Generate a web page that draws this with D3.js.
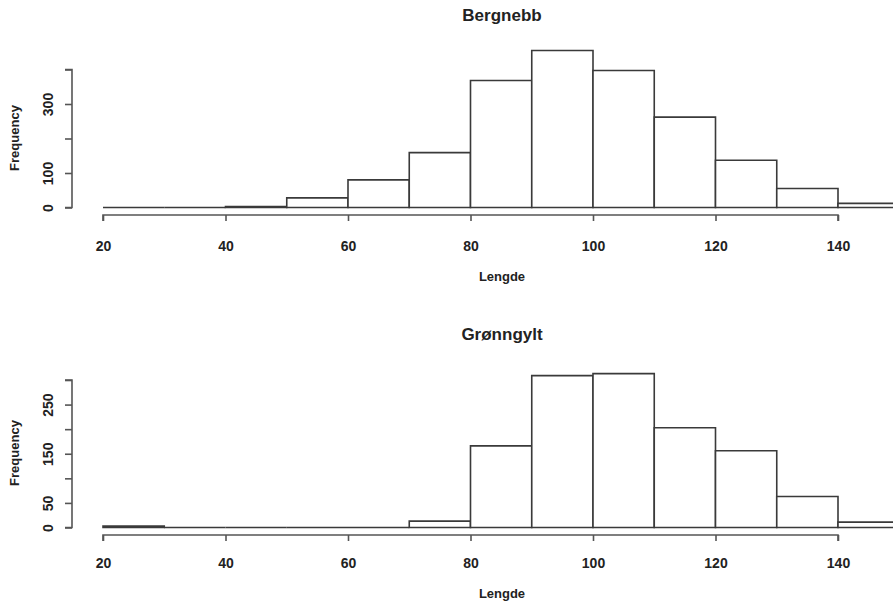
<!DOCTYPE html>
<html>
<head>
<meta charset="utf-8">
<script src="https://cdn.jsdelivr.net/npm/d3@7/dist/d3.min.js"></script>
<style>
  html, body { margin: 0; padding: 0; background: #fff; }
  text { font-family: "Liberation Sans", Arial, sans-serif; fill: #222; }
</style>
</head>
<body>
<svg id="chart" width="893" height="607"></svg>
<script>
// ---- data ----
const binEdges = [20, 30, 40, 50, 60, 70, 80, 90, 100, 110, 120, 130, 140, 150];
const bergnebbCounts = [0, 0, 3, 28, 80, 159, 368, 455, 397, 262, 137, 55, 12];
const gronngyltCounts = [3, 0, 0, 0, 0, 13, 166, 309, 313, 203, 156, 63, 11];
const xTicks = [20, 40, 60, 80, 100, 120, 140];
const bergnebbYTicks = [0, 100, 200, 300, 400];
const bergnebbYLabels = [0, 100, 300];
const gronngyltYTicks = [0, 50, 100, 150, 200, 250, 300];
const gronngyltYLabels = [0, 50, 150, 250];
const titles = ["Bergnebb", "Grønngylt"];
const xLabel = "Lengde";
const yLabel = "Frequency";

const svg = d3.select("#chart");
const x = d3.scaleLinear().domain([20, 140]).range([103, 838]);

const panels = [
  { title: titles[0], counts: bergnebbCounts, yTicks: bergnebbYTicks, yLabels: bergnebbYLabels,
    y: d3.scaleLinear().domain([0, 400]).range([207.5, 69.5]),
    titleY: 21, axisY: 215, tickLabY: 251, xLabY: 281, yLabMid: 138 },
  { title: titles[1], counts: gronngyltCounts, yTicks: gronngyltYTicks, yLabels: gronngyltYLabels,
    y: d3.scaleLinear().domain([0, 300]).range([527.5, 380]),
    titleY: 340, axisY: 535, tickLabY: 568, xLabY: 598, yLabMid: 453 }
];

panels.forEach(p => {
  const g = svg.append("g");
  const y = p.y;
  const bins = p.counts.map((c, i) => ({ x0: binEdges[i], x1: binEdges[i + 1], c }));

  // bars (drawn as closed paths so zero-count bins still show as a line)
  g.selectAll("path.bar").data(bins).enter().append("path")
    .attr("class", "bar")
    .attr("d", d => `M${x(d.x0)},${y(0)}V${y(d.c)}H${x(d.x1)}V${y(0)}Z`)
    .attr("fill", "#fff")
    .attr("stroke", "#3a3a3a")
    .attr("stroke-width", 1.6);

  // x axis
  const xa = d3.axisBottom(x).tickValues(xTicks).tickSize(6).tickPadding(16).tickFormat(d3.format("d"));
  const gx = g.append("g").attr("transform", `translate(0,${p.axisY})`).call(xa);
  gx.select(".domain").attr("stroke", "#555").attr("stroke-width", 1.6)
    .attr("d", `M${x(20)},6V0H${x(140)}V6`);
  gx.selectAll(".tick line").attr("stroke", "#555").attr("stroke-width", 1.6);
  gx.selectAll(".tick text").attr("font-size", 14).attr("font-weight", "bold")
    .attr("fill", "#3a3a3a").attr("dy", null).attr("y", p.tickLabY - p.axisY);

  // y axis
  const ya = d3.axisLeft(y).tickValues(p.yTicks).tickSize(7)
    .tickFormat(d => p.yLabels.includes(d) ? d : "");
  const gy = g.append("g").attr("transform", "translate(72,0)").call(ya);
  gy.select(".domain").attr("stroke", "#555").attr("stroke-width", 1.6)
    .attr("d", `M-7,${y(p.yTicks[p.yTicks.length - 1])}H0V${y(0)}H-7`);
  gy.selectAll(".tick line").attr("stroke", "#555").attr("stroke-width", 1.6);
  gy.selectAll(".tick text").attr("font-size", 14).attr("font-weight", "bold").attr("fill", "#3a3a3a")
    .attr("x", null).attr("dy", null)
    .attr("text-anchor", "middle")
    .attr("transform", "translate(-24,0) rotate(-90)")
    .attr("y", 0).attr("dominant-baseline", "central");

  // title
  g.append("text").attr("x", 502).attr("y", p.titleY).attr("text-anchor", "middle")
    .attr("font-size", 17).attr("font-weight", "bold").attr("fill", "#111").text(p.title);

  // axis labels
  g.append("text").attr("x", 502).attr("y", p.xLabY).attr("text-anchor", "middle")
    .attr("font-size", 13).attr("font-weight", "bold").attr("fill", "#3a3a3a").text(xLabel);
  g.append("text").attr("transform", `translate(19,${p.yLabMid}) rotate(-90)`)
    .attr("text-anchor", "middle").attr("font-size", 13).attr("font-weight", "bold")
    .attr("fill", "#3a3a3a").text(yLabel);
});
</script>
</body>
</html>
